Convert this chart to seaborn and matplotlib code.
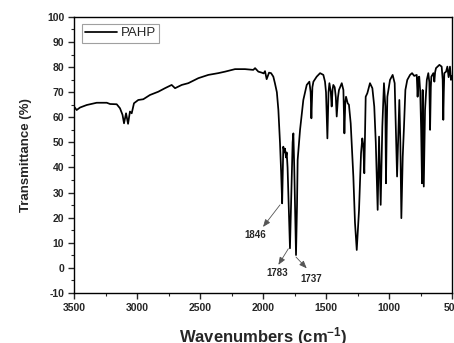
import numpy as np
import pandas as pd
import matplotlib
matplotlib.use('Agg')
import matplotlib.pyplot as plt
import seaborn as sns
from matplotlib.ticker import MultipleLocator

# FTIR spectrum of PAHP
wavenumber = [3500, 3479, 3452, 3399, 3320, 3240, 3214, 3161, 3135, 3115,
              3103, 3087, 3071, 3056, 3042, 3024, 2990, 2950, 2897, 2831,
              2778, 2725, 2698, 2645, 2593, 2513, 2434, 2355, 2301, 2222,
              2143, 2077, 2063, 2037, 2010, 1995, 1984, 1971, 1952, 1936,
              1918, 1905, 1890, 1878, 1865, 1856, 1848, 1839, 1830, 1825,
              1818, 1812, 1805, 1799, 1786, 1775, 1765, 1759, 1752, 1738,
              1730, 1725, 1706, 1680, 1653, 1632, 1622, 1616, 1608, 1600,
              1574, 1547, 1521, 1508, 1500, 1489, 1480, 1473, 1462, 1455,
              1448, 1442, 1431, 1422, 1415, 1405, 1397, 1375, 1362, 1354,
              1347, 1341, 1328, 1318, 1304, 1283, 1270, 1256, 1238, 1222,
              1212, 1204, 1196, 1190, 1185, 1172, 1151, 1132, 1117, 1105,
              1090, 1079, 1066, 1053, 1043, 1040, 1029, 1024, 1018, 1013,
              992, 971, 955, 944, 936, 928, 918, 910, 902, 895,
              891, 881, 870, 855, 833, 817, 800, 780, 773, 766,
              760, 752, 745, 738, 733, 724, 718, 714, 700, 688,
              680, 674, 668, 664, 648, 640, 634, 627, 600, 582,
              574, 569, 565, 561, 547, 537, 527, 516, 508, 500]
transmittance = [64.3, 62.9, 63.9, 64.9, 65.8, 65.8, 65.3, 65.2, 63.6, 61.0,
                 57.6, 61.6, 57.4, 62.3, 61.6, 65.6, 66.9, 67.2, 68.9, 70.2,
                 71.6, 72.9, 71.6, 72.9, 73.6, 75.6, 76.9, 77.6, 78.2, 79.2,
                 79.2, 78.9, 79.6, 78.2, 77.8, 77.5, 78.4, 75.2, 77.8, 77.6,
                 76.2, 73.5, 70.0, 62.9, 49.7, 38.0, 25.7, 48.3, 46.0, 47.5,
                 44.0, 46.0, 40.0, 29.7, 7.8, 30.0, 50.0, 53.6, 40.0, 5.1,
                 25.0, 43.0, 55.0, 66.9, 72.9, 74.2, 70.0, 59.6, 72.0, 74.2,
                 76.2, 77.6, 76.9, 74.2, 70.0, 51.6, 70.0, 73.6, 70.0, 64.3,
                 71.0, 72.9, 72.0, 68.0, 60.3, 68.0, 70.9, 73.6, 70.9, 53.6,
                 66.0, 68.2, 65.6, 65.0, 57.6, 36.4, 18.0, 7.1, 23.0, 45.7,
                 51.6, 49.0, 37.7, 55.0, 68.2, 69.6, 73.6, 71.6, 64.3, 50.0,
                 23.1, 52.3, 25.1, 56.3, 70.0, 73.6, 64.3, 33.7, 55.0, 68.2,
                 74.9, 76.9, 73.6, 52.3, 36.4, 50.0, 66.9, 50.0, 19.8, 35.0,
                 44.3, 56.3, 70.9, 74.9, 76.9, 77.6, 76.5, 76.9, 68.2, 76.0,
                 76.2, 70.0, 55.0, 33.7, 70.9, 32.4, 50.0, 62.9, 74.9, 77.6,
                 74.0, 55.0, 72.0, 76.2, 77.6, 74.2, 78.0, 79.6, 80.9, 80.2,
                 75.0, 59.0, 70.0, 77.6, 78.2, 80.2, 76.0, 80.2, 74.9, 76.5]

# annotated peaks: label, arrow tail (near peak), arrow tip, text position
peak_labels = ['1846', '1783', '1737']
arrow_tail = [(1865, 25.1), (1799, 7.6), (1738, 4.3)]
arrow_tip = [(2000, 16.3), (1878, 1.2), (1653, -0.2)]
label_pos = [(2063, 13.1), (1891, -1.9), (1621, -4.5)]

df = pd.DataFrame({'wavenumber': wavenumber, 'transmittance': transmittance})

sns.set_style('ticks')
plt.rcParams['font.family'] = ['Liberation Sans', 'DejaVu Sans']
plt.rcParams['axes.unicode_minus'] = False
plt.rcParams['mathtext.fontset'] = 'custom'
plt.rcParams['mathtext.rm'] = 'Liberation Sans:bold'
plt.rcParams['mathtext.default'] = 'rm'

fig = plt.figure(figsize=(4.54, 3.43), dpi=100)
ax = fig.add_axes([0.163, 0.146, 0.8326, 0.8046])

sns.lineplot(data=df, x='wavenumber', y='transmittance', sort=False,
             color='black', linewidth=1.25, label='PAHP', ax=ax)

for lab, tail, tip, pos in zip(peak_labels, arrow_tail, arrow_tip, label_pos):
    ax.annotate('', xy=tip, xytext=tail,
                arrowprops=dict(arrowstyle='-|>,head_length=0.45,head_width=0.18',
                                color='#555555', lw=0.6, shrinkA=0, shrinkB=0))
    ax.text(pos[0], pos[1], lab, ha='center', va='center',
            fontsize=7, fontweight='bold')

ax.set_xlim(3500, 500)
ax.set_ylim(-10, 100)
ax.xaxis.set_major_locator(MultipleLocator(500))
ax.xaxis.set_minor_locator(MultipleLocator(250))
ax.yaxis.set_major_locator(MultipleLocator(10))
ax.yaxis.set_minor_locator(MultipleLocator(5))
ax.tick_params(which='major', direction='out', length=4, width=1, labelsize=7.5, pad=3)
ax.tick_params(which='minor', direction='out', length=2.5, width=0.8)
for t in ax.get_xticklabels() + ax.get_yticklabels():
    t.set_fontweight('bold')

for sp in ax.spines.values():
    sp.set_visible(True)
    sp.set_linewidth(1.0)
    sp.set_color('black')

ax.set_xlabel(r'Wavenumbers (cm$^{-1}$)', fontsize=12, fontweight='bold', labelpad=9)
ax.set_ylabel('Transmittance (%)', fontsize=9.5, fontweight='bold', labelpad=11)

leg = ax.legend(loc='upper left', bbox_to_anchor=(0.02, 0.975), frameon=True,
                fancybox=False, edgecolor='#888888', fontsize=9.5,
                handlelength=2.4, handletextpad=0.3, borderpad=0.25,
                borderaxespad=0)
leg.get_frame().set_linewidth(0.8)

fig.savefig('out.png', dpi=100)
